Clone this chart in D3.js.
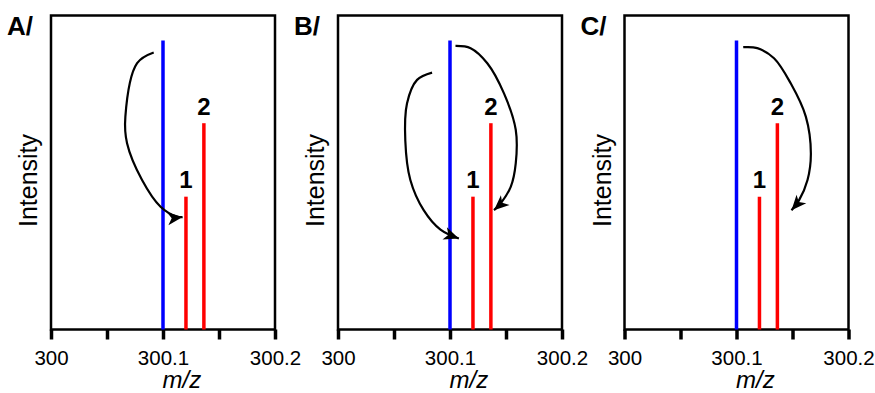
<!DOCTYPE html>
<html><head><meta charset="utf-8">
<script src="https://cdn.jsdelivr.net/npm/d3@7"></script>
<style>body{margin:0;background:#fff}</style>
</head><body>
<svg id="chart" width="875" height="393"></svg>
<script>
// ---- data ----
const panelNames = ["A/", "B/", "C/"];
const peakMz = [300.1, 300.1205, 300.1365];
const peakIntensity = [92, 42.3, 65.7];
const peakLabels = ["", "1", "2"];
const peakKind = ["precursor", "product", "product"];
const tickValues = [300, 300.05, 300.1, 300.15, 300.2];
const tickLabels = ["300", "", "300.1", "", "300.2"];
const xTitle = "m/z";
const yTitle = "Intensity";
// curved arrows, points in (m/z, intensity)
const arrowsA = [
  [[300.0917, 88.2], [300.0769, 84.8], [300.0664, 67.8], [300.0679, 59.3], [300.0813, 47.6], [300.0978, 39.1], [300.1127, 35.9], [300.1175, 35.8]]
];
const arrowsB = [
  [[300.0840, 81.8], [300.0706, 79.5], [300.0616, 72.0], [300.0601, 60.1], [300.0646, 47.6], [300.0765, 38.0], [300.0915, 31.8], [300.1079, 29.0]],
  [[300.1049, 90.3], [300.1184, 89.6], [300.1333, 84.8], [300.1482, 75.2], [300.1587, 63.6], [300.1587, 52.9], [300.1543, 45.5], [300.1453, 40.2], [300.1393, 38.0]]
];
const arrowsC = [
  [[300.1060, 89.9], [300.1186, 89.6], [300.1335, 86.4], [300.1484, 78.4], [300.1619, 67.8], [300.1664, 56.1], [300.1634, 47.6], [300.1559, 41.2], [300.1491, 38.0]]
];
const panelArrows = [arrowsA, arrowsB, arrowsC];

// ---- layout / style ----
const FONT = "Arial, 'Liberation Sans', Helvetica, sans-serif";
const colors = {precursor: "#0000ff", product: "#ff0000"};
const panelLeft = [51, 338, 624.5];
const panelW = 224, plotTop = 15.5, plotBottom = 329.5;

const svg = d3.select("#chart");
const defs = svg.append("defs");
defs.append("marker")
  .attr("id", "ah").attr("viewBox", "-1 -8 19 16")
  .attr("markerUnits", "userSpaceOnUse")
  .attr("markerWidth", 19).attr("markerHeight", 16)
  .attr("refX", 15).attr("refY", 0).attr("orient", "auto")
  .append("path").attr("d", "M0,-6.5 L15,0 L0,6.5 L4,0 Z").attr("fill", "#000");

const y = d3.scaleLinear().domain([0, 100]).range([plotBottom, plotTop]);

panelNames.forEach((name, p) => {
  const L = panelLeft[p];
  const x = d3.scaleLinear().domain([300, 300.2]).range([L, L + panelW]);
  const g = svg.append("g");

  // frame
  g.append("rect").attr("x", L).attr("y", plotTop).attr("width", panelW).attr("height", plotBottom - plotTop)
    .attr("fill", "none").attr("stroke", "#000").attr("stroke-width", 2.5);

  // axis
  const ax = g.append("g").attr("transform", `translate(0,${plotBottom})`)
    .call(d3.axisBottom(x).tickValues(tickValues).tickFormat((d, i) => tickLabels[i]).tickSize(10).tickPadding(11));
  ax.select(".domain").remove();
  ax.selectAll(".tick line").attr("stroke", "#000").attr("stroke-width", 3.5);
  ax.selectAll(".tick text").attr("font-family", FONT).attr("font-size", 20.5).attr("fill", "#000");

  // peaks
  g.selectAll("line.peak").data(peakMz).join("line").attr("class", "peak")
    .attr("x1", d => x(d)).attr("x2", d => x(d))
    .attr("y1", y(0)).attr("y2", (d, i) => y(peakIntensity[i]))
    .attr("stroke", (d, i) => colors[peakKind[i]]).attr("stroke-width", 3.5);

  g.selectAll("text.plab").data(peakMz).join("text").attr("class", "plab")
    .attr("x", d => x(d)).attr("y", (d, i) => y(peakIntensity[i]) - 8.5)
    .attr("text-anchor", "middle").attr("font-family", FONT).attr("font-weight", "bold")
    .attr("font-size", 24).text((d, i) => peakLabels[i]);

  // arrows
  const line = d3.line().x(d => x(d[0])).y(d => y(d[1])).curve(d3.curveCatmullRom);
  g.selectAll("path.arrow").data(panelArrows[p]).join("path").attr("class", "arrow")
    .attr("d", line).attr("fill", "none").attr("stroke", "#000").attr("stroke-width", 2.2)
    .attr("marker-end", "url(#ah)");

  // titles
  g.append("text").attr("x", L - 44).attr("y", 35).attr("font-family", FONT)
    .attr("font-weight", "bold").attr("font-size", 26).text(name);
  g.append("text").attr("transform", `translate(${L - 14},180.5) rotate(-90)`)
    .attr("text-anchor", "middle").attr("font-family", FONT).attr("font-size", 25).text(yTitle);
  g.append("text").attr("x", x(300.1) - 0.5).attr("y", 388).attr("font-family", FONT)
    .attr("font-style", "italic").attr("font-size", 24).text(xTitle);
});
</script>
</body></html>
